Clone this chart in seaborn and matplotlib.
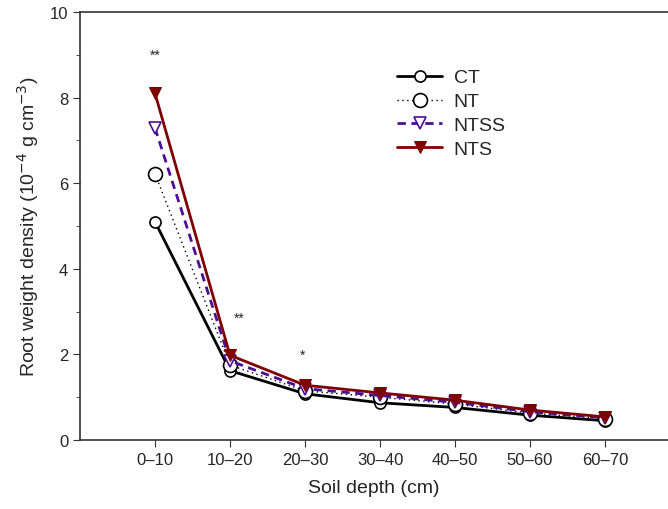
import pandas as pd
import numpy as np
import seaborn as sns
import matplotlib.pyplot as plt

sns.set_style('ticks')
plt.rcParams['font.family'] = ['Liberation Sans', 'DejaVu Sans']

depths = ['0–10', '10–20', '20–30', '30–40', '40–50', '50–60', '60–70']
ct = [5.10, 1.62, 1.08, 0.87, 0.76, 0.58, 0.45]
nt = [6.22, 1.75, 1.15, 1.00, 0.84, 0.63, 0.50]
ntss = [7.29, 1.85, 1.20, 1.04, 0.88, 0.66, 0.52]
nts = [8.10, 1.98, 1.28, 1.10, 0.93, 0.70, 0.54]

# asteriscos de significancia: (posicion, altura, texto)
sig_x = [1, 2.12, 2.97]
sig_y = [9.0, 2.85, 2.0]
sig_txt = ['**', '**', '*']

pos = np.arange(1, len(depths) + 1)
df = pd.DataFrame({'pos': pos, 'CT': ct, 'NT': nt, 'NTSS': ntss, 'NTS': nts})

fig = plt.figure(figsize=(6.68, 5.10), dpi=100)
ax = fig.add_axes([80 / 668, 69 / 510, 1 - 80 / 668, 428 / 510])

sns.lineplot(data=df, x='pos', y='CT', ax=ax, color='black', lw=2, marker='o',
             markersize=8, markerfacecolor='white', markeredgecolor='black', markeredgewidth=1.2, label='CT')
sns.lineplot(data=df, x='pos', y='NT', ax=ax, color='black', lw=1, ls=(0, (1, 2.5)), marker='o',
             markersize=10, markerfacecolor='white', markeredgecolor='black', markeredgewidth=1.2, label='NT')
sns.lineplot(data=df, x='pos', y='NTSS', ax=ax, color='#4b0f96', lw=2, ls=(0, (3, 2)), marker='v',
             markersize=8, markerfacecolor='white', markeredgecolor='#4b0f96', markeredgewidth=1.2, label='NTSS')
sns.lineplot(data=df, x='pos', y='NTS', ax=ax, color='#800000', lw=2, marker='v',
             markersize=9, markerfacecolor='#800000', markeredgecolor='#800000', label='NTS')

for x, y, t in zip(sig_x, sig_y, sig_txt):
    ax.text(x, y, t, ha='center', va='center', fontsize=10)

ax.set_xlim(0, 588 / 75)
ax.set_ylim(0, 10)
ax.set_xticks(pos)
ax.set_xticklabels(depths)
ax.set_yticks([0, 2, 4, 6, 8, 10])
ax.set_yticks([1, 3, 5, 7, 9], minor=True)
ax.tick_params(axis='both', which='major', direction='out', length=5, labelsize=12, color='#333333')
ax.tick_params(axis='y', which='minor', direction='out', length=3, color='#333333')
ax.spines['right'].set_visible(False)
for s in ['left', 'top', 'bottom']:
    ax.spines[s].set_color('#333333')
    ax.spines[s].set_linewidth(1.2)

ax.set_xlabel('Soil depth (cm)', fontsize=14, labelpad=9)
ax.set_ylabel('Root weight density (10$^{-4}$ g cm$^{-3}$)', fontsize=14, labelpad=6)

ax.legend(loc='upper left', bbox_to_anchor=(0.51, 0.908), frameon=False, fontsize=14,
          handlelength=2.3, labelspacing=0.32, handletextpad=0.6)

plt.savefig('out.png', dpi=100)
